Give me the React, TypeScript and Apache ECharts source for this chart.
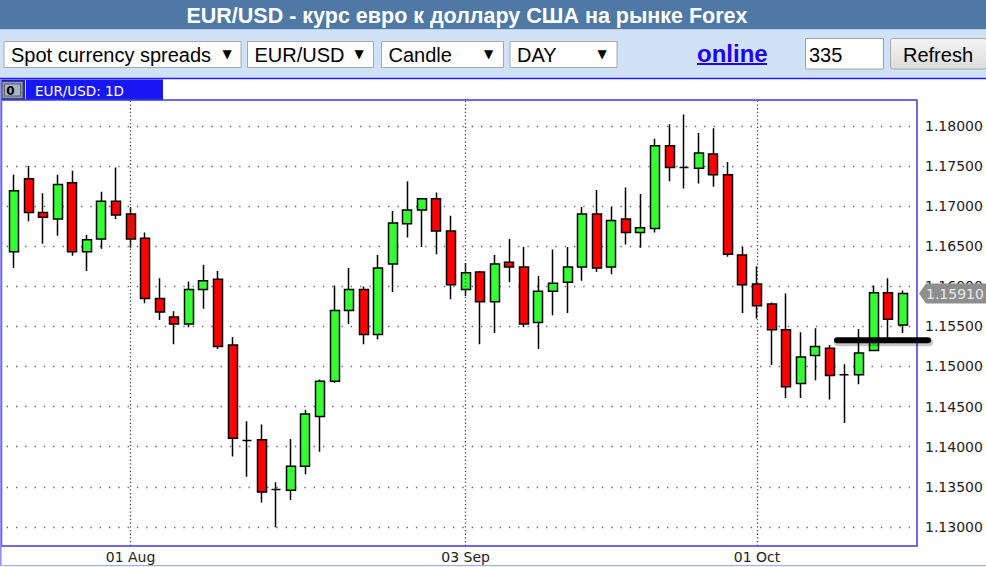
import React, { useEffect, useRef } from "react";
import * as echarts from "echarts";

// ---------- data ----------
const dates = [
  "2018-07-20", "2018-07-23", "2018-07-24", "2018-07-25", "2018-07-26", "2018-07-27", "2018-07-30", "2018-07-31",
  "2018-08-01", "2018-08-02", "2018-08-03", "2018-08-06", "2018-08-07", "2018-08-08", "2018-08-09", "2018-08-10",
  "2018-08-13", "2018-08-14", "2018-08-15", "2018-08-16", "2018-08-17", "2018-08-20", "2018-08-21", "2018-08-22",
  "2018-08-23", "2018-08-24", "2018-08-27", "2018-08-28", "2018-08-29", "2018-08-30", "2018-08-31",
  "2018-09-03", "2018-09-04", "2018-09-05", "2018-09-06", "2018-09-07", "2018-09-10", "2018-09-11", "2018-09-12",
  "2018-09-13", "2018-09-14", "2018-09-17", "2018-09-18", "2018-09-19", "2018-09-20", "2018-09-21", "2018-09-24",
  "2018-09-25", "2018-09-26", "2018-09-27", "2018-09-28",
  "2018-10-01", "2018-10-02", "2018-10-03", "2018-10-04", "2018-10-05", "2018-10-08", "2018-10-09", "2018-10-10",
  "2018-10-11", "2018-10-12", "2018-10-15",
];
const opens = [
  1.1643, 1.1734, 1.1692, 1.1684, 1.1729, 1.1643, 1.1659, 1.1706,
  1.1690, 1.1660, 1.1585, 1.1562, 1.1553, 1.1596, 1.1609, 1.1527,
  1.1408, 1.1409, 1.1347, 1.1346, 1.1376, 1.1438, 1.1482, 1.1570,
  1.1596, 1.1540, 1.1628, 1.1678, 1.1695, 1.1709, 1.1669,
  1.1596, 1.1618, 1.1581, 1.1630, 1.1624, 1.1555, 1.1594, 1.1605,
  1.1624, 1.1690, 1.1624, 1.1684, 1.1667, 1.1672, 1.1775, 1.1748,
  1.1747, 1.1765, 1.1739, 1.1639,
  1.1603, 1.1578, 1.1546, 1.1479, 1.1514, 1.1523, 1.1490, 1.1490,
  1.1520, 1.1592, 1.1552,
];
const closes = [
  1.1719, 1.1692, 1.1686, 1.1727, 1.1643, 1.1658, 1.1706, 1.1689,
  1.1659, 1.1585, 1.1568, 1.1553, 1.1596, 1.1607, 1.1525, 1.1411,
  1.1408, 1.1344, 1.1347, 1.1376, 1.1441, 1.1482, 1.1570, 1.1596,
  1.1540, 1.1623, 1.1679, 1.1695, 1.1709, 1.1669, 1.1602,
  1.1617, 1.1581, 1.1628, 1.1624, 1.1553, 1.1594, 1.1604, 1.1624,
  1.1690, 1.1623, 1.1682, 1.1667, 1.1673, 1.1775, 1.1748, 1.1748,
  1.1766, 1.1739, 1.1640, 1.1602,
  1.1576, 1.1546, 1.1475, 1.1512, 1.1525, 1.1489, 1.1490, 1.1517,
  1.1592, 1.1559, 1.1591,
];
const lows = [
  1.1623, 1.1681, 1.1653, 1.1663, 1.1638, 1.1619, 1.1647, 1.1684,
  1.1648, 1.1579, 1.1558, 1.1528, 1.1549, 1.1572, 1.1522, 1.1388,
  1.1363, 1.1331, 1.1300, 1.1334, 1.1366, 1.1394, 1.1480, 1.1553,
  1.1528, 1.1534, 1.1593, 1.1661, 1.1649, 1.1640, 1.1584,
  1.1588, 1.1528, 1.1542, 1.1605, 1.1549, 1.1522, 1.1564, 1.1567,
  1.1607, 1.1618, 1.1615, 1.1652, 1.1648, 1.1667, 1.1731, 1.1722,
  1.1728, 1.1724, 1.1637, 1.1567,
  1.1560, 1.1502, 1.1461, 1.1461, 1.1483, 1.1459, 1.1430, 1.1478,
  1.1520, 1.1532, 1.1542,
];
const highs = [
  1.1739, 1.1750, 1.1716, 1.1739, 1.1744, 1.1664, 1.1718, 1.1748,
  1.1699, 1.1667, 1.1610, 1.1569, 1.1606, 1.1627, 1.1619, 1.1537,
  1.1432, 1.1428, 1.1356, 1.1410, 1.1446, 1.1484, 1.1601, 1.1623,
  1.1600, 1.1639, 1.1694, 1.1731, 1.1709, 1.1717, 1.1688,
  1.1629, 1.1619, 1.1639, 1.1659, 1.1649, 1.1613, 1.1646, 1.1649,
  1.1699, 1.1720, 1.1699, 1.1723, 1.1715, 1.1784, 1.1802, 1.1814,
  1.1791, 1.1797, 1.1755, 1.1649,
  1.1625, 1.1580, 1.1591, 1.1543, 1.1548, 1.1527, 1.1503, 1.1547,
  1.1601, 1.1610, 1.1595,
];
const labelDates = ["2018-08-01", "2018-09-03", "2018-10-01"];
const labelTexts = ["01 Aug", "03 Sep", "01 Oct"];
const priceAxisMin = 1.125;
const priceAxisMax = 1.185;
const priceStep = 0.005;
const lastPrice = 1.1591;
const supportLevel = 1.1533;

const titleText = "EUR/USD - курс евро к доллару США на рынке Forex";
const selectTexts = ["Spot currency spreads", "EUR/USD", "Candle", "DAY"];
const tabText = "EUR/USD: 1D";

const UI = "'Liberation Sans', Arial, sans-serif";
const AX = "'DejaVu Sans', sans-serif";

export default function App() {
  const ref = useRef<HTMLDivElement>(null);
  useEffect(() => {
    document.body.style.margin = "0";
    const chart = echarts.init(ref.current!, null, { renderer: "svg" });
    const candleData = dates.map((_, i) => [opens[i], closes[i], lows[i], highs[i]]);
    chart.setOption({
      animation: false,
      backgroundColor: "#ffffff",
      grid: [
        { left: 6.7, right: 76, top: 100, height: 446 },
        { left: 6.7, right: 76, top: 85.65, height: 481.8 },
      ],
      xAxis: [
        {
          type: "category",
          gridIndex: 0,
          data: dates,
          boundaryGap: true,
          axisLine: { show: false },
          axisTick: { show: false },
          splitLine: { show: false },
          axisLabel: {
            interval: (_i: number, v: string) => labelDates.includes(v),
            formatter: (v: string) => labelTexts[labelDates.indexOf(v)] ?? "",
            margin: 4,
            fontFamily: AX,
            fontSize: 14,
            color: "#222",
          },
        },
        { type: "value", gridIndex: 1, min: 0, max: 1, show: false },
      ],
      yAxis: [
        { type: "value", gridIndex: 0, min: 1.12767, max: 1.18321, show: false },
        {
          type: "value",
          gridIndex: 1,
          position: "right",
          min: priceAxisMin,
          max: priceAxisMax,
          interval: priceStep,
          axisLine: { show: false },
          axisTick: { show: false },
          axisLabel: {
            margin: 15,
            fontFamily: AX,
            fontSize: 14,
            color: "#222",
            showMinLabel: false,
            showMaxLabel: false,
            formatter: (v: number) => v.toFixed(5),
          },
          splitLine: {
            show: true,
            showMinLine: false,
            showMaxLine: false,
            lineStyle: { color: "#5e5e5e", type: [1.3, 8], width: 1.3 },
          },
        },
      ],
      series: [
        {
          type: "candlestick",
          xAxisIndex: 0,
          yAxisIndex: 0,
          data: candleData,
          barWidth: 9.5,
          itemStyle: {
            color: "#33ff33",
            color0: "#ff0000",
            borderColor: "#000000",
            borderColor0: "#000000",
            borderColorDoji: "#000000",
            borderWidth: 1.5,
          },
          markLine: {
            silent: true,
            symbol: ["none", "none"],
            label: { show: false },
            lineStyle: { color: "#444", type: [1.3, 2.4], width: 1.3 },
            data: labelDates.map((d) => ({ xAxis: d })),
          },
        },
      ],
    });

    const yLast = chart.convertToPixel({ yAxisIndex: 0 }, lastPrice) as number;
    const ySup = chart.convertToPixel({ yAxisIndex: 0 }, supportLevel) as number;

    const selBoxes = [
      { x: 4, w: 237, tri: 227 },
      { x: 247.5, w: 126, tri: 359 },
      { x: 381.5, w: 122, tri: 488.5 },
      { x: 510, w: 107, tri: 602 },
    ];

    const elements: any[] = [
      // header
      { type: "rect", z: 0, shape: { x: 0, y: 0, width: 986, height: 29.5 }, style: { fill: "#4e79a5" } },
      {
        type: "text", z: 1,
        style: { text: titleText, x: 467, y: 15.5, fill: "#ffffff", font: `bold 21.5px ${UI}`, textAlign: "center", textVerticalAlign: "middle" },
      },
      // toolbar
      { type: "rect", z: 0, shape: { x: 0, y: 29.5, width: 986, height: 49 }, style: { fill: "#d0e2f7" } },
      { type: "line", z: 1, shape: { x1: 0, y1: 78.6, x2: 986, y2: 78.6 }, style: { stroke: "#1f1fff", lineWidth: 1.6 } },
      ...selBoxes.flatMap((b, i) => [
        { type: "rect", z: 1, shape: { x: b.x, y: 41.5, width: b.w, height: 26 }, style: { fill: "#ffffff", stroke: "#a8a8a8", lineWidth: 1 } },
        { type: "text", z: 2, style: { text: selectTexts[i], x: b.x + 7, y: 55, fill: "#000", font: `20px ${UI}`, textVerticalAlign: "middle" } },
        { type: "text", z: 2, style: { text: "▼", x: b.tri, y: 54, fill: "#000", font: `12px ${AX}`, textAlign: "center", textVerticalAlign: "middle" } },
      ]),
      { type: "text", z: 2, style: { text: "online", x: 697, y: 53.5, fill: "#2200ee", font: `bold 24px ${UI}`, textVerticalAlign: "middle" } },
      { type: "line", z: 2, shape: { x1: 697, y1: 64, x2: 767, y2: 64 }, style: { stroke: "#2200ee", lineWidth: 2 } },
      { type: "rect", z: 1, shape: { x: 805.5, y: 38.5, width: 78, height: 30.5 }, style: { fill: "#ffffff", stroke: "#a0a0a0", lineWidth: 1 } },
      { type: "text", z: 2, style: { text: "335", x: 809, y: 54.5, fill: "#000", font: `20px ${UI}`, textVerticalAlign: "middle" } },
      {
        type: "rect", z: 1, shape: { x: 890.5, y: 38.5, width: 96, height: 30.5, r: 2 },
        style: {
          fill: new echarts.graphic.LinearGradient(0, 0, 0, 1, [
            { offset: 0, color: "#f4f4f4" },
            { offset: 1, color: "#dcdcdc" },
          ]),
          stroke: "#a8a8a8", lineWidth: 1,
        },
      },
      { type: "text", z: 2, style: { text: "Refresh", x: 938, y: 54.5, fill: "#000", font: `20px ${UI}`, textAlign: "center", textVerticalAlign: "middle" } },
      // tab strip
      { type: "rect", z: 10, shape: { x: 0, y: 79.4, width: 986, height: 20.4 }, style: { fill: "#ffffff" } },
      { type: "rect", z: 11, shape: { x: 0, y: 79.4, width: 163, height: 20.6 }, style: { fill: "#1818f6" } },
      { type: "rect", z: 12, shape: { x: 2, y: 81.5, width: 21, height: 17 }, style: { fill: "#8d9ab4", stroke: "#40485a", lineWidth: 1 } },
      { type: "rect", z: 12, shape: { x: 4.5, y: 84, width: 16, height: 12 }, style: { fill: "#a9b3c8", stroke: "#5a6275", lineWidth: 1 } },
      { type: "text", z: 13, style: { text: "0", x: 10.5, y: 90.5, fill: "#000", font: `bold 12px ${AX}`, textAlign: "center", textVerticalAlign: "middle" } },
      { type: "line", z: 12, shape: { x1: 25.5, y1: 80, x2: 25.5, y2: 99.5 }, style: { stroke: "#d8d8ff", lineWidth: 1 } },
      { type: "text", z: 13, style: { text: tabText, x: 35, y: 90.5, fill: "#ffffff", font: `13.5px ${AX}`, textVerticalAlign: "middle" } },
      // frame
      { type: "rect", z: 50, shape: { x: 1.5, y: 100, width: 915.5, height: 446 }, style: { fill: "none", stroke: "#3c3cd6", lineWidth: 1.5 } },
      { type: "line", z: 51, shape: { x1: 0.8, y1: 79, x2: 0.8, y2: 566 }, style: { stroke: "#8e8ef6", lineWidth: 1.6 } },
      { type: "line", z: 51, shape: { x1: 0, y1: 565.6, x2: 986, y2: 565.6 }, style: { stroke: "#9cb6e6", lineWidth: 1.4 } },
      // last price tag
      {
        type: "polygon", z: 100,
        shape: { points: [[919, yLast], [926, yLast - 10], [986, yLast - 10], [986, yLast + 10], [926, yLast + 10]] },
        style: { fill: "#8e8e8e" },
      },
      { type: "text", z: 101, style: { text: lastPrice.toFixed(5), x: 926, y: yLast + 0.5, fill: "#e9e9e9", font: `14px ${AX}`, textVerticalAlign: "middle" } },
      // support annotation (soft shadow + line)
      {
        type: "line", z: 99,
        shape: { x1: 838, y1: ySup + 2, x2: 929, y2: ySup + 2 },
        style: { stroke: "rgba(0,0,0,0.22)", lineWidth: 8, lineCap: "round" },
      },
      {
        type: "line", z: 100,
        shape: { x1: 837, y1: ySup, x2: 928, y2: ySup },
        style: { stroke: "#000000", lineWidth: 6, lineCap: "round" },
      },
    ];

    chart.setOption({ graphic: { elements } });
    return () => chart.dispose();
  }, []);
  return <div ref={ref} style={{ position: "fixed", left: 0, top: 0, width: 986, height: 567 }} />;
}
